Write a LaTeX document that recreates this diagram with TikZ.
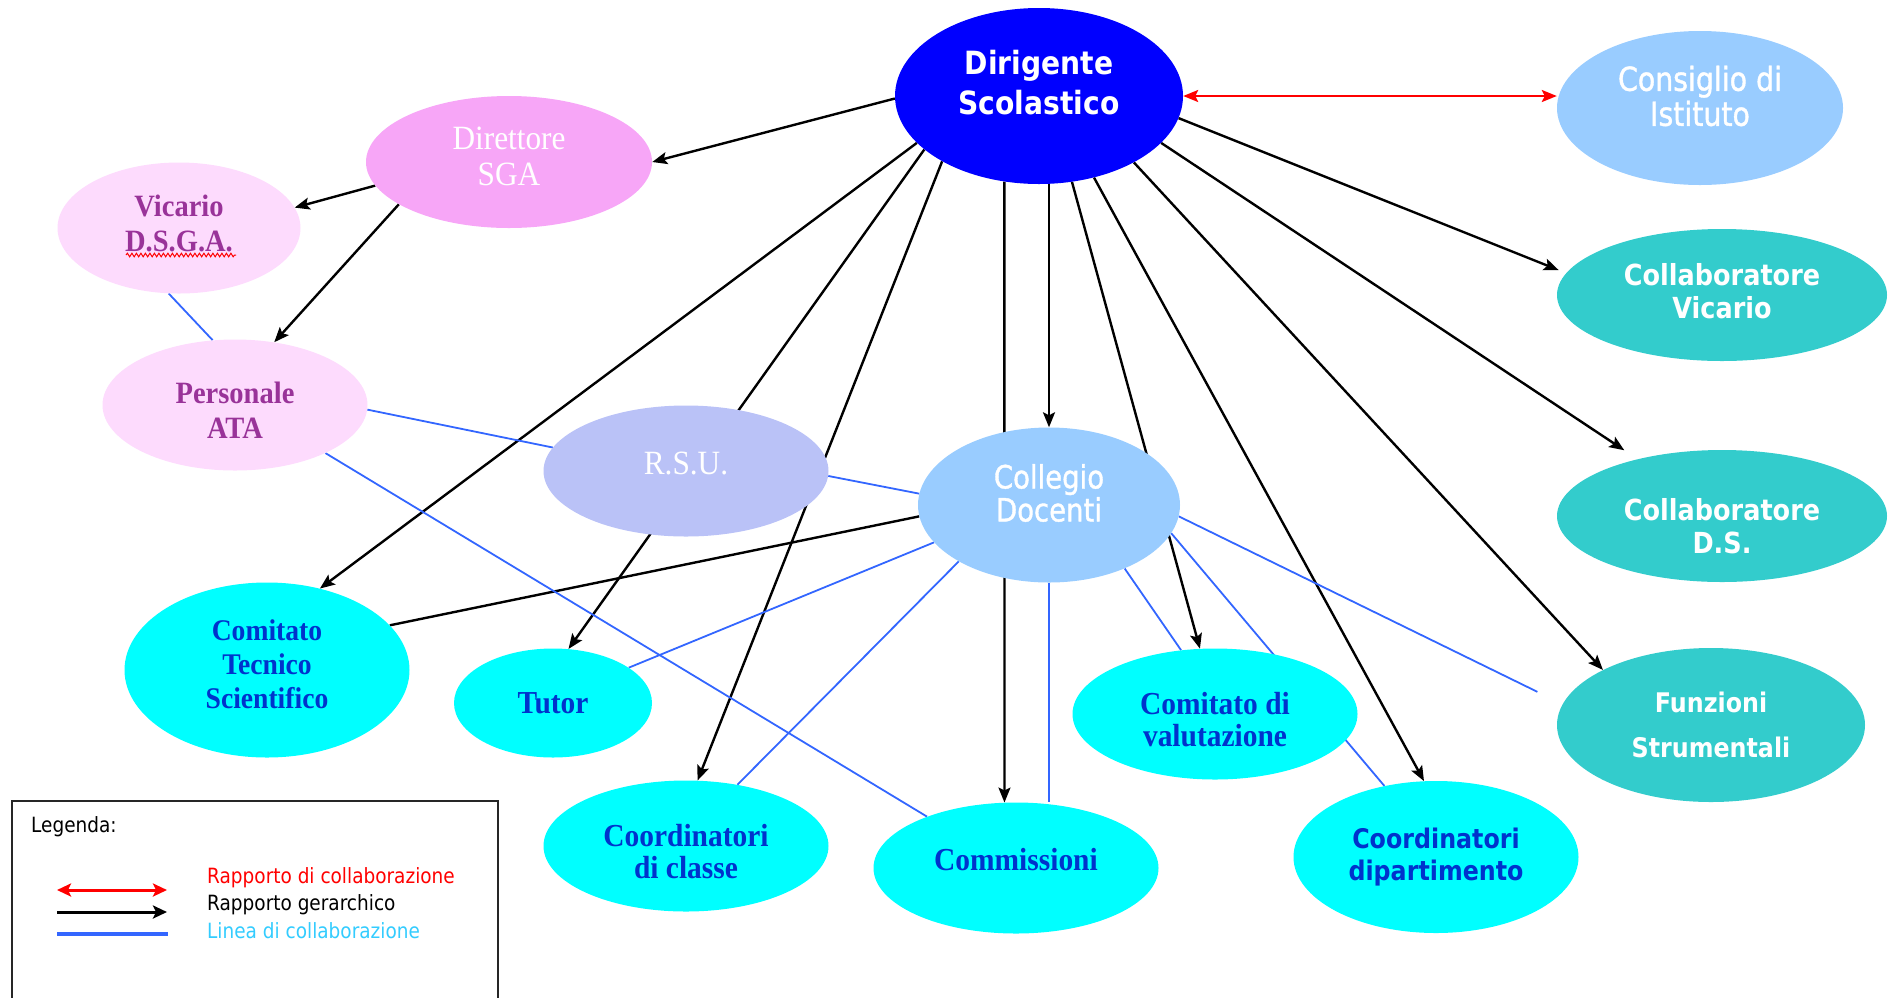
\documentclass[tikz,border=0pt]{standalone}
\usepackage{fontspec}
\usetikzlibrary{shapes.geometric,arrows.meta,backgrounds,decorations.pathmorphing}
\newfontfamily\sansC[FakeStretch=0.88]{DejaVu Sans}
\newfontfamily\sansM[FakeStretch=0.86,FakeBold=1.2]{DejaVu Sans}
\newfontfamily\serifC[FakeStretch=0.92]{Liberation Serif}
\definecolor{dsblue}{RGB}{0,0,255}
\definecolor{lightblue}{RGB}{153,204,255}
\definecolor{tealN}{RGB}{51,204,204}
\definecolor{pinkA}{RGB}{247,166,247}
\definecolor{pinkB}{RGB}{253,219,253}
\definecolor{lav}{RGB}{186,194,247}
\definecolor{cyanN}{RGB}{0,255,255}
\definecolor{txtblue}{RGB}{0,51,204}
\definecolor{purp}{RGB}{153,51,153}
\definecolor{collab}{RGB}{51,102,255}
\definecolor{legcyan}{RGB}{51,204,255}
\begin{document}
\begin{tikzpicture}[x=1pt,y=-1pt,
  ellp/.style n args={3}{ellipse, minimum width=#1pt, minimum height=#2pt, inner sep=0pt, draw=none, fill=#3},
  hierarr/.style={line width=2.4pt, draw=black, -{Stealth[length=15pt,width=12pt,inset=3pt]}},
  plainln/.style={line width=2.4pt, draw=black},
  collln/.style={line width=1.8pt, draw=collab},
  redarr/.style={line width=2.4pt, draw=red, {Stealth[length=15pt,width=12pt,inset=3pt]}-{Stealth[length=15pt,width=12pt,inset=3pt]}},
  tDS/.style={font=\sansC\bfseries\fontsize{32}{40}\selectfont, text=white, align=center},
  tCI/.style={font=\sansM\fontsize{33}{35}\selectfont, text=white, align=center},
  tCV/.style={font=\sansC\bfseries\fontsize{29}{33}\selectfont, text=white, align=center},
  tFS/.style={font=\sansC\bfseries\fontsize{27}{45}\selectfont, text=white, align=center},
  tCD/.style={font=\sansM\fontsize{32}{33}\selectfont, text=white, align=center},
  tSerW/.style={font=\serifC\fontsize{34}{36}\selectfont, text=white, align=center},
  tSerP/.style={font=\serifC\bfseries\fontsize{31}{35}\selectfont, text=purp, align=center},
  tSerB/.style={font=\serifC\bfseries\fontsize{32}{32}\selectfont, text=txtblue, align=center},
  tCTS/.style={font=\serifC\bfseries\fontsize{30}{34}\selectfont, text=txtblue, align=center},
  tSansB/.style={font=\sansC\bfseries\fontsize{27}{32}\selectfont, text=txtblue, align=center},
  tLeg/.style={font=\sansC\fontsize{21}{24}\selectfont, anchor=west, inner sep=0pt},
  legred/.style={line width=3pt, draw=red, {Stealth[length=14pt,width=13pt,inset=3pt]}-{Stealth[length=14pt,width=13pt,inset=3pt]}},
  legblack/.style={line width=3pt, draw=black, -{Stealth[length=14pt,width=13pt,inset=3pt]}},
  legblue/.style={line width=4pt, draw=collab}
]
\useasboundingbox (0,0) rectangle (1895,997);

% nodes
\node[ellp={288}{176}{dsblue}, label={[tDS, yshift=13pt]center:{Dirigente\\Scolastico}}] (ds) at (1039,96) {};
\node[ellp={286}{154}{lightblue}, label={[tCI, yshift=12pt]center:{Consiglio di\\Istituto}}] (ci) at (1700,108) {};
\node[ellp={330}{132}{tealN}, label={[tCV, yshift=4pt]center:{Collaboratore\\Vicario}}] (cv) at (1722,295) {};
\node[ellp={330}{132}{tealN}, label={[tCV, yshift=-10pt]center:{Collaboratore\\D.S.}}] (cds) at (1722,516) {};
\node[ellp={308}{154}{tealN}, label={[tFS]center:{Funzioni\\Strumentali}}] (fs) at (1711,725) {};
\node[ellp={286}{132}{pinkA}, label={[tSerW, yshift=6pt]center:{Direttore\\SGA}}] (dsga) at (509,162) {};
\node[ellp={243}{131}{pinkB}, label={[tSerP, yshift=5pt]center:{Vicario\\D.S.G.A.}}] (vic) at (179,228) {};
\node[ellp={265}{131}{pinkB}, label={[tSerP, yshift=-5pt]center:{Personale\\ATA}}] (ata) at (235,405) {};
\node[ellp={285}{131}{lav}, label={[tSerW, yshift=8pt]center:{R.S.U.}}] (rsu) at (686,471) {};
\node[ellp={262}{155}{lightblue}, label={[tCD, yshift=12pt]center:{Collegio\\Docenti}}] (cd) at (1049,505) {};
\node[ellp={285}{175}{cyanN}, label={[tCTS, yshift=6pt]center:{Comitato\\Tecnico\\Scientifico}}] (cts) at (267,670) {};
\node[ellp={198}{109}{cyanN}, label={[tSerB]center:{Tutor}}] (tut) at (553,703) {};
\node[ellp={285}{131}{cyanN}, label={[tSerB, yshift=-6pt]center:{Coordinatori\\di classe}}] (ccl) at (686,846) {};
\node[ellp={285}{131}{cyanN}, label={[tSerB, yshift=8pt]center:{Commissioni}}] (com) at (1016,868) {};
\node[ellp={285}{131}{cyanN}, label={[tSerB, yshift=-6pt]center:{Comitato di\\valutazione}}] (cval) at (1215,714) {};
\node[ellp={285}{152}{cyanN}, label={[tSansB]center:{Coordinatori\\dipartimento}}] (cdip) at (1436,857) {};

% spell-check squiggle under D.S.G.A.
\draw[red, line width=1pt, decorate, decoration={snake, amplitude=1.8pt, segment length=4.5pt}] (126,255) -- (236,255);

% connectors behind the ellipses
\begin{scope}[on background layer]
\draw[hierarr] (ds.181) -- (dsga.0);
\draw[hierarr] (ds.201) -- (cts.57);
\draw[hierarr] (ds.205) -- (tut.74);
\draw[hierarr] (ds.214) -- (ccl.80);
\draw[hierarr] (ds.248) -- (com.100);
\draw[hierarr] (cd.north |- ds.south) -- (cd.north);
\draw[hierarr] (ds.291) -- (cval.103);
\draw[hierarr] (ds.304) -- (cdip.99);
\draw[hierarr] (ds.325) -- (fs.153);
\draw[hierarr, shorten >=16pt] (ds.339) -- (cds.146);
\draw[hierarr, shorten >=8pt] (ds.351) -- (cv.172);
\draw[redarr] (ds.east) -- (ds.east -| ci.west);
\draw[hierarr] (dsga.190) -- (vic.10);
\draw[hierarr] (dsga.201) -- (ata.58);
\draw[plainln] (cd.185) -- (cts.20);
\draw[collln] (vic.261) -- (ata.109);
\draw[collln] (ata.358) -- (rsu.170);
\draw[collln] (rsu.358) -- (cd.175);
\draw[collln] (ata.332) -- (com.150);
\draw[collln] (tut.25) -- (cd.198);
\draw[collln] (ccl.50) -- (cd.212);
\draw[collln] (cd.south) -- (cd.south |- com.north);
\draw[collln] (cval.118) -- (cd.320);
\draw[collln] (cd.347) -- (cdip.126);
\draw[collln, shorten >=28pt] (cd.355) -- (fs.172);
\end{scope}

% legend
\draw[line width=2pt, draw=black!85] (12,1010) -- (12,801) -- (498,801) -- (498,1010);
\node[tLeg] (legt) at (31,827) {Legenda:};
\coordinate (r1a) at (57,890); \coordinate (r1b) at (167,890);
\coordinate (r2a) at (57,912); \coordinate (r2b) at (167,912);
\coordinate (r3a) at (57,934); \coordinate (r3b) at (168,934);
\draw[legred] (r1a) -- (r1b);
\draw[legblack] (r2a) -- (r2b);
\draw[legblue] (r3a) -- (r3b);
\node[tLeg, text=red] (l1) at (207,878) {Rapporto di collaborazione};
\node[tLeg, text=black] (l2) at (207,905) {Rapporto gerarchico};
\node[tLeg, text=legcyan] (l3) at (207,931) {Linea di collaborazione};
\end{tikzpicture}
\end{document}
